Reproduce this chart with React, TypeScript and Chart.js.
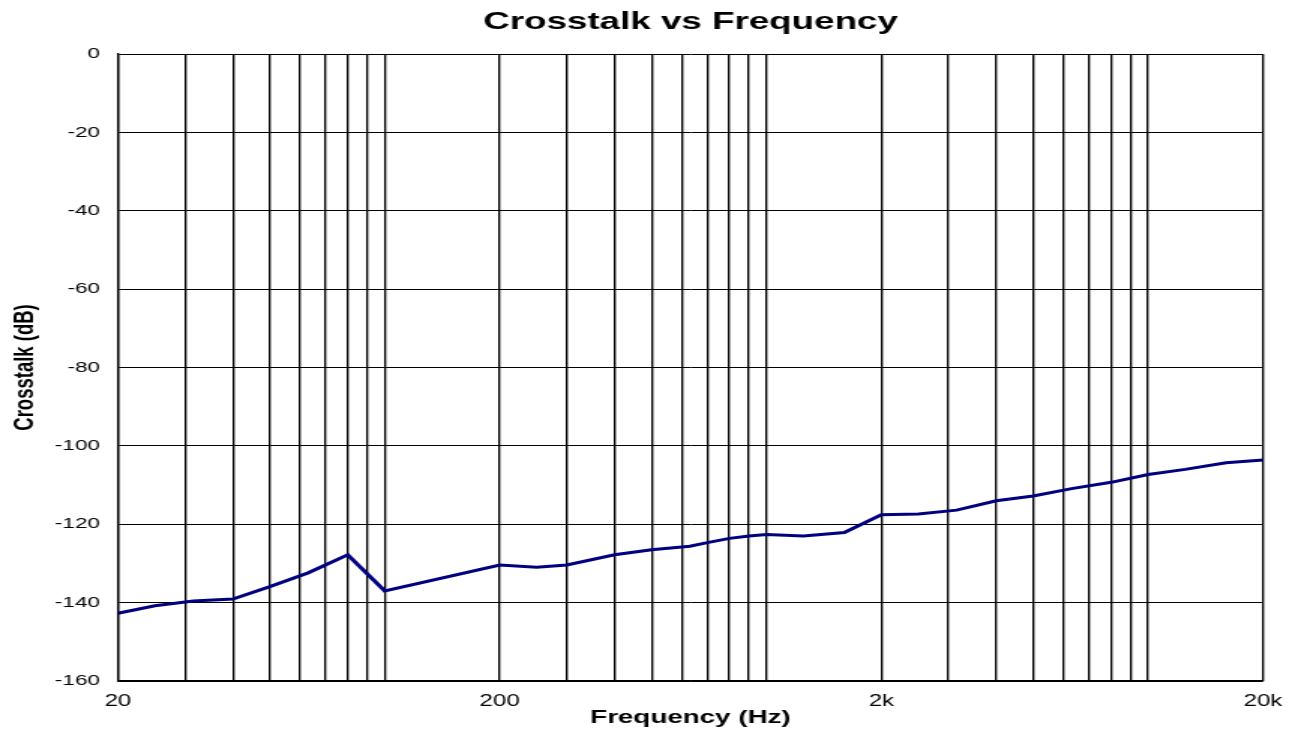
import React, { useEffect, useRef } from "react";
import { Chart, registerables } from "chart.js";

Chart.register(...registerables);

// Measured frequency response (Hz) and crosstalk (dB)
const frequencies = [20, 25, 31.5, 40, 50, 63, 80, 100, 200, 250, 300, 400, 500, 630, 700, 800, 900, 1000, 1250, 1600, 2000, 2500, 3150, 4000, 5000, 6300, 8000, 10000, 12500, 16000, 20000];
const crosstalk = [-142.7, -140.8, -139.6, -139.1, -135.9, -132.4, -127.8, -137.0, -130.4, -131.0, -130.4, -127.8, -126.5, -125.6, -124.7, -123.6, -123.0, -122.6, -123.0, -122.1, -117.6, -117.4, -116.4, -114.0, -112.8, -110.9, -109.3, -107.3, -106.0, -104.3, -103.6];

// Vertical grid positions and the labelled ones
const gridFrequencies = [20, 30, 40, 50, 60, 70, 80, 90, 100, 200, 300, 400, 500, 600, 700, 800, 900, 1000, 2000, 3000, 4000, 5000, 6000, 7000, 8000, 9000, 10000, 20000];
const labelledFrequencies = [20, 200, 2000, 20000];
const frequencyLabels = ["20", "200", "2k", "20k"];

// Y axis
const yMin = -160;
const yMax = 0;
const yStep = 20;

const title = "Crosstalk vs Frequency";
const xTitle = "Frequency (Hz)";
const yTitle = "Crosstalk (dB)";

const CANVAS_W = 863;
const CANVAS_H = 740;
const FONT = "'Liberation Sans', Arial, sans-serif";

export default function App() {
  const ref = useRef<HTMLCanvasElement | null>(null);

  useEffect(() => {
    if (!ref.current) return;
    Chart.defaults.color = "#000";
    const points = frequencies.map((f, i) => ({ x: f, y: crosstalk[i] }));
    const chart = new Chart(ref.current, {
      type: "line",
      data: {
        datasets: [
          {
            data: points,
            borderColor: "#000080",
            backgroundColor: "#000080",
            borderWidth: 3,
            pointRadius: 0,
            tension: 0,
            fill: false,
          },
        ],
      },
      options: {
        animation: false,
        responsive: false,
        devicePixelRatio: 1,
        layout: { padding: { left: 0, right: 21.3, top: 0, bottom: 0 } },
        plugins: {
          legend: { display: false },
          tooltip: { enabled: false },
          title: {
            display: true,
            fullSize: false,
            text: title,
            color: "#000",
            font: { family: FONT, size: 24.5, weight: "bold", lineHeight: 1.2 },
            padding: { top: 8, bottom: 16.6 },
          },
        },
        scales: {
          x: {
            type: "logarithmic",
            min: 20,
            max: 20000,
            afterBuildTicks: (scale: any) => {
              scale.ticks = gridFrequencies.map((v) => ({ value: v }));
            },
            afterFit: (scale: any) => {
              scale.height = 59;
              scale.paddingLeft = 0;
              scale.paddingRight = 0;
            },
            grid: { color: "#000", lineWidth: 1.34, drawTicks: false },
            border: { color: "#000", width: 1.34 },
            ticks: {
              autoSkip: false,
              maxRotation: 0,
              padding: 11,
              color: "#000",
              font: { family: FONT, size: 16 },
              callback: (value: any) => {
                const idx = labelledFrequencies.indexOf(Number(value));
                return idx >= 0 ? frequencyLabels[idx] : "";
              },
            },
            title: {
              display: true,
              text: xTitle,
              color: "#000",
              font: { family: FONT, size: 18.5, weight: "bold", lineHeight: 1.2 },
              padding: { top: 0, bottom: 10.5 },
            },
          },
          y: {
            min: yMin,
            max: yMax,
            afterFit: (scale: any) => {
              scale.width = 78.6;
            },
            grid: { color: "#000", lineWidth: 1, drawTicks: false },
            border: { color: "#000", width: 1.34 },
            ticks: {
              stepSize: yStep,
              padding: 12,
              color: "#000",
              font: { family: FONT, size: 15 },
              callback: (value: any) => String(value),
            },
            title: {
              display: true,
              text: yTitle,
              color: "#000",
              font: { family: FONT, size: 18.5, weight: "bold", lineHeight: 1.2 },
              padding: { top: 5.6, bottom: 0 },
            },
          },
        },
      },
    });
    return () => chart.destroy();
  }, []);

  return (
    <div style={{ position: "absolute", left: 0, top: 0, width: 1295, height: 740, background: "#fff" }}>
      <canvas
        ref={ref}
        width={CANVAS_W}
        height={CANVAS_H}
        style={{ width: "1295px", height: "740px", display: "block" }}
      />
    </div>
  );
}
